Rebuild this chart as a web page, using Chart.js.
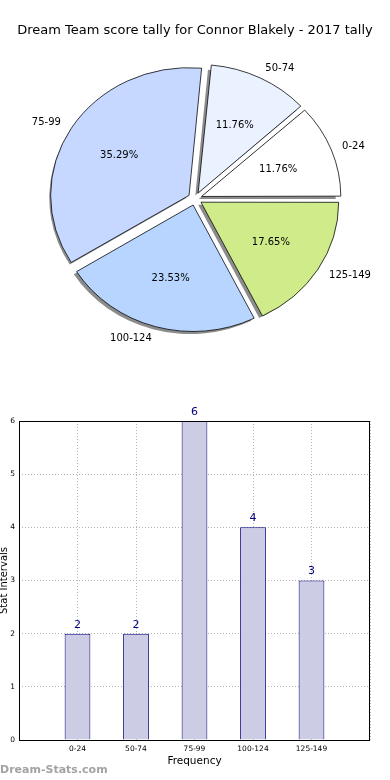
<!DOCTYPE html>
<html>
<head>
<meta charset="utf-8">
<script src="https://cdn.jsdelivr.net/npm/chart.js@4"></script>
<style>
    body { margin: 0; background: #fff; width: 390px; height: 780px; overflow: hidden; position: relative; }
    #pie { position: absolute; left: 0; top: 0; }
    #bars { position: absolute; left: 0; top: 360px; }
</style>
</head>
<body>
<canvas id="pie" width="390" height="360"></canvas>
<canvas id="bars" width="390" height="420"></canvas>
<script>
const TITLE = 'Dream Team score tally for Connor Blakely - 2017 tally';
const intervals = ['0-24', '50-74', '75-99', '100-124', '125-149'];
const counts = [2, 2, 6, 4, 3];
const sliceColours = ['#ffffff', '#eaf1ff', '#c6d8ff', '#b7d5ff', '#cfeb8a'];
const yTicks = [0, 1, 2, 3, 4, 5, 6];

const FONT = 'DejaVu Sans';
const RADIUS = 137;   // horizontal radius in px
const SQUASH = 0.923; // pie is drawn as an ellipse, like the original
const EXPLODE = 7;    // px each slice is pushed out

const total = counts.reduce((a, b) => a + b, 0);

// matplotlib goes counter-clockwise from 3 o'clock, chart.js clockwise -> reverse
const pieLabels = intervals.slice().reverse();
const pieData = counts.slice().reverse();
const pieColours = sliceColours.slice().reverse();

const pieExtras = {
    id: 'pieExtras',
    beforeDatasetsDraw(chart) {
        const ctx = chart.ctx;
        const arcs = chart.getDatasetMeta(0).data;
        const cx = arcs[0].x, cy = arcs[0].y;
        ctx.save();
        ctx.translate(cx, cy);
        ctx.scale(1, SQUASH);
        ctx.translate(-cx, -cy);
        // shadows under the wedges
        ctx.fillStyle = 'rgba(0,0,0,0.45)';
        arcs.forEach(a => {
            const mid = (a.startAngle + a.endAngle) / 2;
            const ox = cx + EXPLODE * Math.cos(mid) - 2.8;
            const oy = cy + EXPLODE * Math.sin(mid) + 2.8;
            ctx.beginPath();
            ctx.moveTo(ox, oy);
            ctx.arc(ox, oy, a.outerRadius, a.startAngle, a.endAngle);
            ctx.closePath();
            ctx.fill();
        });
    },
    afterDatasetsDraw(chart) {
        const ctx = chart.ctx;
        ctx.restore();
        const arcs = chart.getDatasetMeta(0).data;
        const cx = arcs[0].x, cy = arcs[0].y;
        ctx.save();
        ctx.fillStyle = '#000';
        ctx.font = '10px "' + FONT + '"';
        ctx.textBaseline = 'middle';
        arcs.forEach((a, i) => {
            const mid = (a.startAngle + a.endAngle) / 2;
            const c = Math.cos(mid), s = Math.sin(mid);
            const r1 = EXPLODE + 1.1 * a.outerRadius;
            ctx.textAlign = c < 0 ? 'right' : 'left';
            ctx.fillText(chart.data.labels[i], cx + r1 * c, cy + r1 * s * SQUASH);
            const r2 = EXPLODE + 0.6 * a.outerRadius;
            const pct = (pieData[i] / total * 100).toFixed(2) + '%';
            ctx.textAlign = 'center';
            ctx.fillText(pct, cx + r2 * c, cy + r2 * s * SQUASH);
        });
        ctx.restore();
    }
};

new Chart(document.getElementById('pie'), {
    type: 'pie',
    data: {
        labels: pieLabels,
        datasets: [{
            data: pieData,
            backgroundColor: pieColours,
            borderColor: '#000',
            borderWidth: 0.8,
            offset: EXPLODE * 4, // chart.js moves arcs by offset / 4
            radius: RADIUS,
        }]
    },
    options: {
        responsive: false,
        animation: false,
        events: [],
        rotation: 90,
        layout: { padding: { top: 0, bottom: 1 } },
        plugins: {
            legend: { display: false },
            tooltip: { enabled: false },
            title: {
                display: true,
                text: TITLE,
                color: '#000',
                font: { family: FONT, size: 13, weight: 'normal' },
                padding: { top: 23, bottom: 0 }
            }
        }
    },
    plugins: [pieExtras]
});

// bar chart: blank slots at both ends so the axis runs 0..6 like the original
const barLabels = [''].concat(intervals, ['']);
const barData = [null].concat(counts, [null]);

const barExtras = {
    id: 'barExtras',
    afterDraw(chart) {
        const ctx = chart.ctx;
        const area = chart.chartArea;
        ctx.save();
        ctx.strokeStyle = '#000';
        ctx.lineWidth = 1;
        ctx.strokeRect(area.left + 0.5, area.top + 0.5, area.right - area.left - 1, area.bottom - area.top);
        // value labels
        ctx.fillStyle = '#000080';
        ctx.font = '11px "' + FONT + '"';
        ctx.textAlign = 'center';
        ctx.textBaseline = 'middle';
        chart.getDatasetMeta(0).data.forEach((bar, i) => {
            if (barData[i] == null) return;
            ctx.fillText(barData[i], bar.x, bar.y - 9);
        });
        // watermark
        ctx.fillStyle = '#a3a3a3';
        ctx.font = 'bold 11px "' + FONT + '"';
        ctx.textAlign = 'left';
        ctx.fillText('Dream-Stats.com', 0, 410);
        ctx.restore();
    }
};

new Chart(document.getElementById('bars'), {
    type: 'bar',
    data: {
        labels: barLabels,
        datasets: [{
            data: barData,
            backgroundColor: '#ccccE5',
            borderColor: '#000080',
            borderWidth: 1,
            barPercentage: 0.44,
            categoryPercentage: 1,
        }]
    },
    options: {
        responsive: false,
        animation: false,
        events: [],
        layout: { padding: { top: 61, right: 20, left: 0, bottom: 0 } },
        plugins: {
            legend: { display: false },
            tooltip: { enabled: false }
        },
        scales: {
            x: {
                offset: false,
                z: 1,
                grid: { offset: false, color: '#b4b4b4', drawTicks: false },
                border: { display: false, dash: [1, 2] },
                ticks: { color: '#000', font: { family: FONT, size: 7.5 }, padding: 5, autoSkip: false, maxRotation: 0 },
                title: {
                    display: true,
                    text: 'Frequency',
                    color: '#000',
                    font: { family: FONT, size: 10.5 },
                    padding: { top: 0, bottom: 12 }
                },
                afterFit(scale) { scale.height = 40; }
            },
            y: {
                min: 0,
                max: 6,
                z: 1,
                grid: { color: '#b4b4b4', drawTicks: false },
                border: { display: false, dash: [1, 2] },
                ticks: { color: '#000', font: { family: FONT, size: 7.5 }, padding: 4 },
                afterBuildTicks(scale) { scale.ticks = yTicks.map(v => ({ value: v })); },
                title: {
                    display: true,
                    text: 'Stat Intervals',
                    color: '#000',
                    font: { family: FONT, size: 10, lineHeight: 0.9 },
                    padding: { top: 0, bottom: 0 }
                },
                afterFit(scale) { scale.width = 19; }
            }
        }
    },
    plugins: [barExtras]
});
</script>
</body>
</html>
